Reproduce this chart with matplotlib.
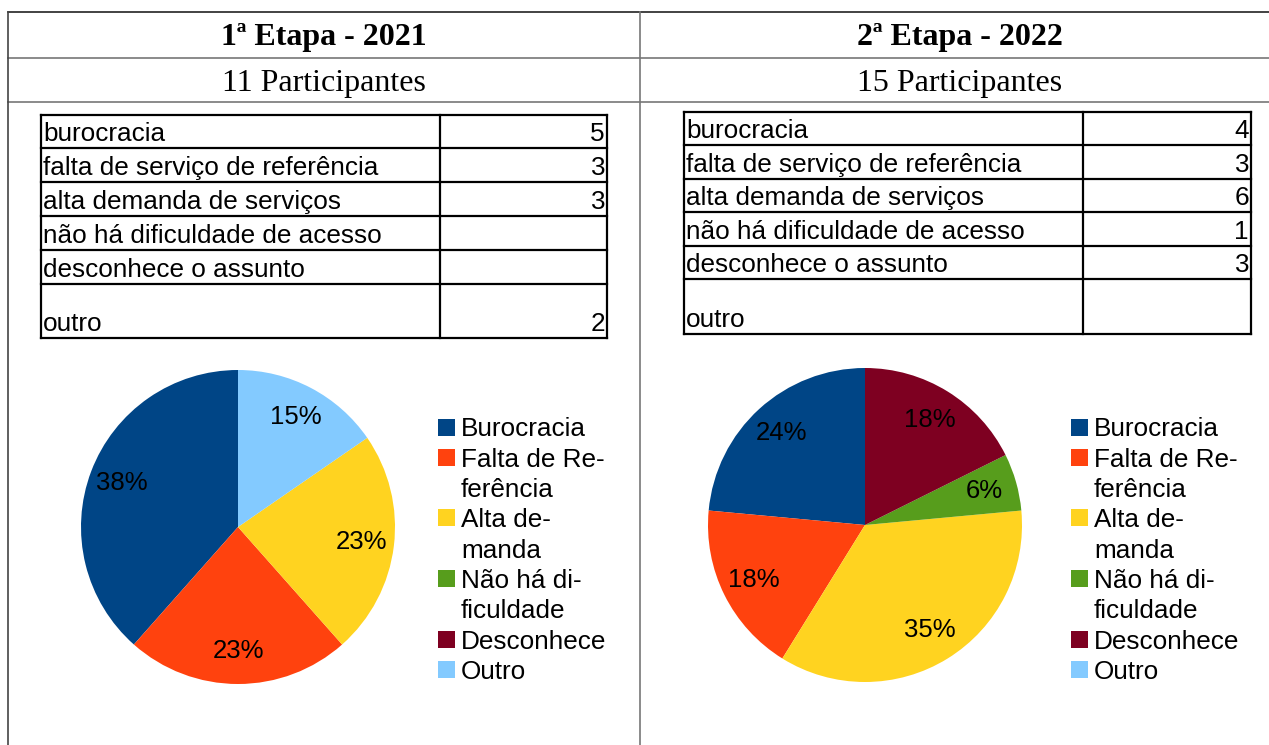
import matplotlib.pyplot as plt
from matplotlib.patches import Rectangle

# dados
categorias = ['burocracia', 'falta de serviço de referência', 'alta demanda de serviços',
              'não há dificuldade de acesso', 'desconhece o assunto', 'outro']
legendas = ['Burocracia', 'Falta de Re-\nferência', 'Alta de-\nmanda',
            'Não há di-\nficuldade', 'Desconhece', 'Outro']
cores = ['#004586', '#ff420e', '#ffd320', '#579d1c', '#7e0021', '#83caff']

etapa1_titulo = '1ª Etapa - 2021'
etapa1_part = '11 Participantes'
etapa1_valores = [5, 3, 3, None, None, 2]

etapa2_titulo = '2ª Etapa - 2022'
etapa2_part = '15 Participantes'
etapa2_valores = [4, 3, 6, 1, 3, None]

W, H = 1269, 745
fig = plt.figure(figsize=(W / 100, H / 100), dpi=100)
ax = fig.add_axes([0, 0, 1, 1])
ax.set_xlim(0, W)
ax.set_ylim(H, 0)
ax.axis('off')

SANS = 'Liberation Sans'
SERIF = 'Liberation Serif'

# moldura externa
ax.plot([8, W], [12, 12], color='#222', lw=1.2)
ax.plot([8, W], [58, 58], color='#777', lw=1.2)
ax.plot([8, W], [102, 102], color='#777', lw=1.2)
ax.plot([8, 8], [12, H], color='#444', lw=1.2)
ax.plot([640, 640], [12, H], color='#777', lw=1.2)

# cabeçalhos
for cx, tit, part in [(324, etapa1_titulo, etapa1_part), (960, etapa2_titulo, etapa2_part)]:
    ax.text(cx, 38, tit, ha='center', va='center', fontsize=23, fontweight='bold', family=SERIF)
    ax.text(cx, 83, part, ha='center', va='center', fontsize=23, family=SERIF)


def tabela(x0, xm, x1, ys, valores):
    for y in ys:
        ax.plot([x0, x1], [y, y], color='black', lw=1.6)
    for x in (x0, xm, x1):
        ax.plot([x, x], [ys[0], ys[-1]], color='black', lw=1.6)
    for i, (cat, v) in enumerate(zip(categorias, valores)):
        yb = ys[i + 1] - 7
        ax.text(x0 + 2, yb, cat, ha='left', va='baseline', fontsize=18.8, family=SANS)
        if v is not None:
            ax.text(x1 - 2, yb, str(v), ha='right', va='baseline', fontsize=18.8, family=SANS)


tabela(41, 440, 607, [115, 148, 182, 216, 250, 284, 338], etapa1_valores)
tabela(684, 1083, 1251, [112, 145, 179, 212, 246, 279, 334], etapa2_valores)


def pizza(cx, cy, r, valores):
    pax = fig.add_axes([(cx - r) / W, (H - cy - r) / H, 2 * r / W, 2 * r / H])
    vals = [v if v is not None else 0 for v in valores]
    wedges, _, autot = pax.pie(vals, colors=cores, startangle=90, counterclock=True,
                               autopct=lambda p: f'{p:.0f}%' if p > 0 else '',
                               pctdistance=0.79, wedgeprops=dict(linewidth=0),
                               textprops=dict(fontsize=18.5, family=SANS))
    pax.set_xlim(-1, 1)
    pax.set_ylim(-1, 1)
    return wedges


def legenda(xq, ytop, step=30.3):
    y = ytop
    for lab, c in zip(legendas, cores):
        ax.add_patch(Rectangle((xq, y - 8.5), 17, 17, color=c, lw=0))
        for linha in lab.split('\n'):
            ax.text(xq + 23, y, linha, ha='left', va='center_baseline', fontsize=18.8,
                    family=SANS)
            y += step


pizza(238, 527, 157, etapa1_valores)
pizza(865, 525, 157, etapa2_valores)

legenda(438, 427)
legenda(1071, 427)

fig.savefig('out.png', dpi=100)
